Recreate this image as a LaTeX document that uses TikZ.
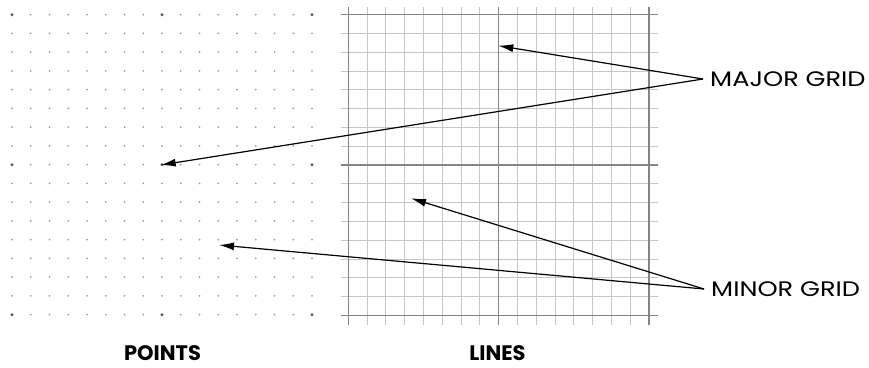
\documentclass[tikz,border=0pt]{standalone}
\usepackage{fontspec}
\setmainfont{Poppins}
\newfontfamily\widefont[FakeStretch=1.22]{Poppins}
\usetikzlibrary{arrows.meta,positioning}
\tikzset{
  minordot/.style={fill=black!38},
  majordot/.style={fill=black!65},
  minorline/.style={draw=black!22, line width=1pt},
  majorline/.style={draw=black!48, line width=1.3pt},
  pointer/.style={
    draw=black,
    line width=1.2pt,
    -{Latex[length=15pt,width=8pt]}
  },
  gridlabel/.style={
    font=\widefont\fontsize{21}{24}\selectfont,
    anchor=west,
    inner xsep=7pt,
    inner ysep=0pt
  },
  paneltitle/.style={
    font=\fontsize{21}{24}\selectfont\bfseries,
    inner sep=0pt
  }
}
\begin{document}
\begin{tikzpicture}[x=1pt,y=-1pt]
        \useasboundingbox (0,0) rectangle (869,367);
        % points
        \foreach \i in {0,...,16}{
          \foreach \j in {0,...,16}{
            \fill[minordot] (12+18.75*\i,14.7+18.75*\j) circle (1pt);
          }
        }
        \foreach \i in {0,8,16}{
          \foreach \j in {0,8,16}{
            \fill[majordot] (12+18.75*\i,14.7+18.75*\j) circle (1.6pt);
          }
        }
        % lines
        \foreach \i in {0,...,16}{
          \draw[minorline] (348.3+18.8*\i,7) -- (348.3+18.8*\i,325);
          \draw[minorline] (340.5,14.7+18.8*\i) -- (658,14.7+18.8*\i);
        }
        \foreach \i in {0,8,16}{
          \draw[majorline] (348.3+18.8*\i,7) -- (348.3+18.8*\i,325);
          \draw[majorline] (340.5,14.7+18.8*\i) -- (658,14.7+18.8*\i);
        }
        % \draw (340.5,7) rectangle (658,325);
        \coordinate (majA) at (498.3,45.7);
        \coordinate (majB) at (160.7,165);
        \coordinate (minA) at (411,198.3);
        \coordinate (minB) at (219,245);
        \node[gridlabel] (major) at (703,79) {MAJOR GRID};
        \node[gridlabel] (minor) at (704,289) {MINOR GRID};
        \draw[pointer] (major.west) -- (majA);
        \draw[pointer] (major.west) -- (majB);
        \draw[pointer] (minor.west) -- (minA);
        \draw[pointer] (minor.west) -- (minB);
        \node[paneltitle] (points) at (162.5,353) {POINTS};
        \node[paneltitle] (lines) at (497.5,353) {LINES};
\end{tikzpicture}
\end{document}
